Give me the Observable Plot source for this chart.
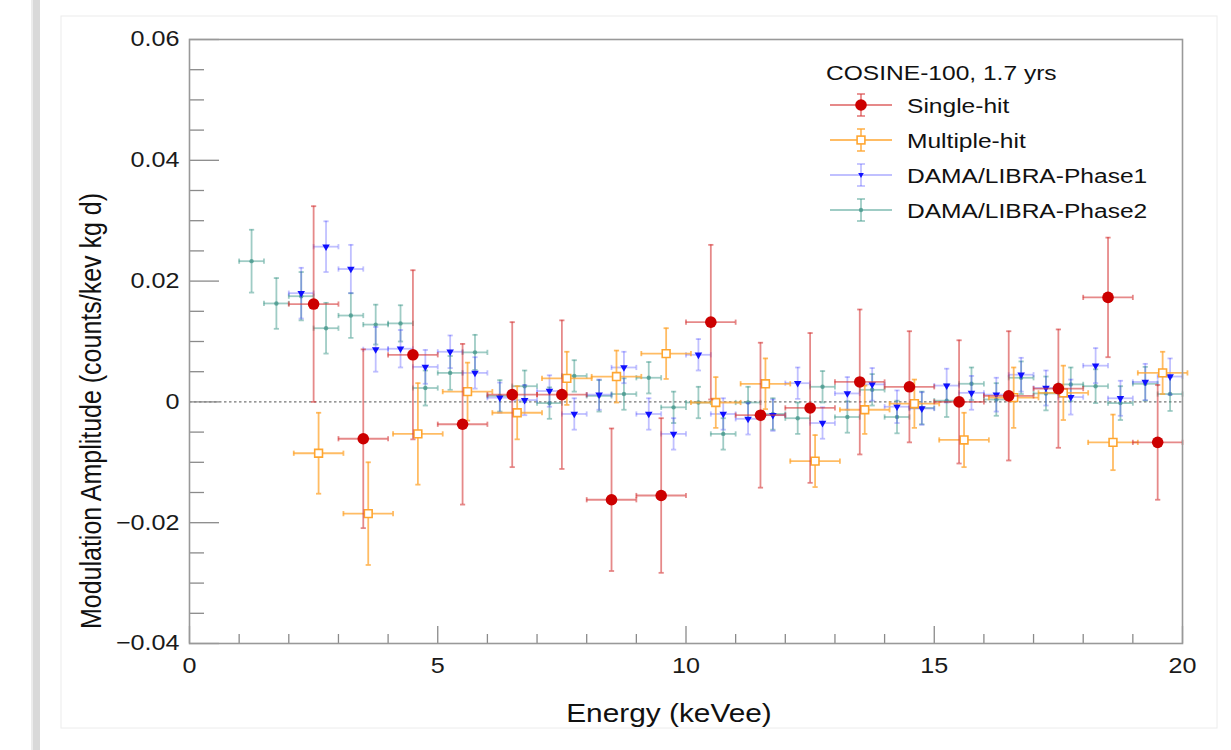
<!DOCTYPE html>
<html>
<head>
<meta charset="utf-8">
<script src="https://cdn.jsdelivr.net/npm/d3@7"></script>
<script src="https://cdn.jsdelivr.net/npm/@observablehq/plot@0.6"></script>
<style>
  body { margin: 0; background: #fff; }
  #wrap { position: relative; width: 1231px; height: 750px; overflow: hidden; background: #fff; }
</style>
</head>
<body>
<div id="wrap"></div>
<script>
// ---------------- DATA ----------------
const singleX   = [2.5, 3.5, 4.5, 5.5, 6.5, 7.5, 8.5, 9.5, 10.5, 11.5, 12.5, 13.5, 14.5, 15.5, 16.5, 17.5, 18.5, 19.5];
const singleY   = [0.0162, -0.0061, 0.0078, -0.0037, 0.0012, 0.0012, -0.0162, -0.0155, 0.0132, -0.0022, -0.0010, 0.0033, 0.0025, 0.0000, 0.0010, 0.0022, 0.0173, -0.0067];
const singleErr = [0.0162, 0.0148, 0.0140, 0.0133, 0.0120, 0.0123, 0.0118, 0.0128, 0.0128, 0.0120, 0.0124, 0.0120, 0.0092, 0.0102, 0.0107, 0.0098, 0.0099, 0.0095];

const multiX   = [2.6, 3.6, 4.6, 5.6, 6.6, 7.6, 8.6, 9.6, 10.6, 11.6, 12.6, 13.6, 14.6, 15.6, 16.6, 17.6, 18.6, 19.6];
const multiY   = [-0.0085, -0.0185, -0.0053, 0.0017, -0.0018, 0.0039, 0.0042, 0.0080, -0.0001, 0.0030, -0.0098, -0.0013, -0.0003, -0.0063, 0.0007, 0.0015, -0.0067, 0.0048];
const multiErr = [0.0067, 0.0085, 0.0084, 0.0048, 0.0044, 0.0044, 0.0043, 0.0042, 0.0042, 0.0042, 0.0043, 0.0040, 0.0040, 0.0045, 0.0050, 0.0045, 0.0046, 0.0035];

const phase1X = [2.25, 2.75, 3.25, 3.75, 4.25, 4.75, 5.25, 5.75, 6.25, 6.75, 7.25, 7.75, 8.25, 8.75, 9.25, 9.75, 10.25, 10.75,
                 11.25, 11.75, 12.25, 12.75, 13.25, 13.75, 14.25, 14.75, 15.25, 15.75, 16.25, 16.75, 17.25, 17.75, 18.25, 18.75, 19.25, 19.75];
const phase1Y = [0.0180, 0.0257, 0.0220, 0.0087, 0.0088, 0.0058, 0.0083, 0.0048, 0.0007, 0.0003, 0.0018, -0.0020, 0.0012, 0.0057, -0.0020, -0.0053, 0.0078, -0.0020,
                 -0.0028, -0.0022, 0.0031, -0.0035, 0.0014, 0.0029, -0.0008, -0.0011, 0.0027, 0.0015, 0.0012, 0.0045, 0.0023, 0.0008, 0.0060, 0.0006, 0.0033, 0.0042];
const phase1Err = [0.0042, 0.0042, 0.0040, 0.0037, 0.0031, 0.0028, 0.0027, 0.0026, 0.0025, 0.0025, 0.0026, 0.0026, 0.0025, 0.0026, 0.0026, 0.0026, 0.0026, 0.0026,
                   0.0026, 0.0026, 0.0026, 0.0026, 0.0027, 0.0027, 0.0027, 0.0027, 0.0028, 0.0028, 0.0028, 0.0028, 0.0029, 0.0029, 0.0029, 0.0029, 0.0030, 0.0030];

const phase2X = [1.25, 1.75, 2.25, 2.75, 3.25, 3.75, 4.25, 4.75, 5.25, 5.75, 6.25, 6.75, 7.25, 7.75, 8.25, 8.75, 9.25, 9.75, 10.25, 10.75,
                 11.25, 11.75, 12.25, 12.75, 13.25, 13.75, 14.25, 14.75, 15.25, 15.75, 16.25, 16.75, 17.25, 17.75, 18.25, 18.75, 19.25, 19.75];
const phase2Y = [0.0233, 0.0163, 0.0175, 0.0122, 0.0143, 0.0128, 0.0130, 0.0023, 0.0048, 0.0082, 0.0010, 0.0026, -0.0002, 0.0043, 0.0010, 0.0013, 0.0040, -0.0009, -0.0001, -0.0053,
                 -0.0001, -0.0020, -0.0027, 0.0025, -0.0025, 0.0020, -0.0025, -0.0010, 0.0002, 0.0030, 0.0004, 0.0040, 0.0014, 0.0029, 0.0026, -0.0002, 0.0030, 0.0013];
const phase2Err = [0.0052, 0.0042, 0.0040, 0.0042, 0.0037, 0.0033, 0.0030, 0.0029, 0.0028, 0.0029, 0.0026, 0.0026, 0.0026, 0.0026, 0.0026, 0.0026, 0.0026, 0.0026, 0.0026, 0.0026,
                   0.0026, 0.0026, 0.0026, 0.0026, 0.0026, 0.0026, 0.0027, 0.0027, 0.0027, 0.0027, 0.0027, 0.0027, 0.0028, 0.0028, 0.0028, 0.0028, 0.0028, 0.0028];

const yMajor = [-0.04, -0.02, 0, 0.02, 0.04, 0.06];
const yMajorLabels = ["\u22120.04", "\u22120.02", "0", "0.02", "0.04", "0.06"];
const yMinor = [-0.035, -0.03, -0.025, -0.015, -0.01, -0.005, 0.005, 0.01, 0.015, 0.025, 0.03, 0.035, 0.045, 0.05, 0.055];
const xMajor = [0, 5, 10, 15, 20];
const xMajorLabels = ["0", "5", "10", "15", "20"];
const xMinor = [1, 2, 3, 4, 6, 7, 8, 9, 11, 12, 13, 14, 16, 17, 18, 19];

const legendTitle = "COSINE-100, 1.7 yrs";
const seriesNames = ["Single-hit", "Multiple-hit", "DAMA/LIBRA-Phase1", "DAMA/LIBRA-Phase2"];
const xTitle = "Energy (keVee)";
const yTitle = "Modulation Amplitude (counts/kev kg d)";

// ---------------- STYLE ----------------
const SX = 1.17; // horizontal stretch of the text in the reference
const FONT = "'Liberation Sans', Arial, Helvetica, sans-serif";
const C = {
  single: {bar: "#d63a3a", barOp: 0.6, mark: "#cc0000"},
  multi:  {bar: "#ffa630", barOp: 0.75, mark: "#ffa630"},
  p1:     {bar: "#3a3aff", barOp: 0.32, mark: "#1010ff"},
  p2:     {bar: "#3f9a8c", barOp: 0.5,  mark: "#4a9a8e"}
};

const hCap = {draw(ctx, size) { const r = Math.sqrt(size / Math.PI); ctx.moveTo(-r, 0); ctx.lineTo(r, 0); }};
const vCap = {draw(ctx, size) { const r = Math.sqrt(size / Math.PI); ctx.moveTo(0, -r); ctx.lineTo(0, r); }};

function rows(xs, ys, es, hw) { return xs.map((x, i) => ({x, y: ys[i], e: es[i], w: hw})); }

function errorBars(data, col) {
  const s = {stroke: col.bar, strokeOpacity: col.barOp, strokeWidth: 1.8};
  return [
    Plot.ruleY(data, {y: "y", x1: d => d.x - d.w, x2: d => d.x + d.w, ...s}),
    Plot.ruleX(data, {x: "x", y1: d => d.y - d.e, y2: d => d.y + d.e, ...s}),
    Plot.dot(data, {x: "x", y: d => d.y + d.e, symbol: hCap, r: 2.6, ...s}),
    Plot.dot(data, {x: "x", y: d => d.y - d.e, symbol: hCap, r: 2.6, ...s}),
    Plot.dot(data, {x: d => d.x - d.w, y: "y", symbol: vCap, r: 2.6, ...s}),
    Plot.dot(data, {x: d => d.x + d.w, y: "y", symbol: vCap, r: 2.6, ...s})
  ];
}

const dSingle = rows(singleX, singleY, singleErr, 0.5);
const dMulti  = rows(multiX, multiY, multiErr, 0.5);
const dP1     = rows(phase1X, phase1Y, phase1Err, 0.25);
const dP2     = rows(phase2X, phase2Y, phase2Err, 0.25);

const axisStyle = {stroke: "#8a8a8a", strokeWidth: 1.3, label: null};

const plot = Plot.plot({
  width: 1231,
  height: 750,
  marginLeft: 189,
  marginRight: 49,
  marginTop: 39,
  marginBottom: 107,
  style: {fontFamily: FONT, background: "transparent", color: "#1a1a1a"},
  x: {domain: [0, 20]},
  y: {domain: [-0.04, 0.06]},
  marks: [
    Plot.ruleY([0], {stroke: "#777", strokeWidth: 1.3, strokeDasharray: "2.5,2.5"}),
    // ticks (inward)
    Plot.axisY({ticks: yMajor, tickSize: -30, tickFormat: () => "", ...axisStyle}),
    Plot.axisY({ticks: yMinor, tickSize: -15, tickFormat: () => "", ...axisStyle}),
    Plot.axisX({ticks: xMajor, tickSize: -17, tickFormat: () => "", ...axisStyle}),
    Plot.axisX({ticks: xMinor, tickSize: -9, tickFormat: () => "", ...axisStyle}),
    // tick labels
    Plot.axisY({ticks: yMajor, tickSize: 0, tickPadding: 10, fontSize: 21.5, label: null,
                tickFormat: d => yMajorLabels[yMajor.indexOf(d)]}),
    Plot.axisX({ticks: xMajor, tickSize: 0, tickPadding: 14, fontSize: 21.5, label: null,
                tickFormat: d => xMajorLabels[xMajor.indexOf(d)]}),
    // DAMA/LIBRA Phase2
    ...errorBars(dP2, C.p2),
    Plot.dot(dP2, {x: "x", y: "y", r: 2.2, fill: C.p2.mark, fillOpacity: 0.8}),
    // DAMA/LIBRA Phase1
    ...errorBars(dP1, C.p1),
    Plot.dot(dP1, {x: "x", y: "y", symbol: "triangle", rotate: 180, r: 2.8, fill: C.p1.mark}),
    // Multiple-hit
    ...errorBars(dMulti, C.multi),
    Plot.dot(dMulti, {x: "x", y: "y", symbol: "square", r: 4.4, fill: "white", stroke: C.multi.mark, strokeWidth: 1.6}),
    // Single-hit
    ...errorBars(dSingle, C.single),
    Plot.dot(dSingle, {x: "x", y: "y", r: 5.8, fill: C.single.mark}),
    Plot.frame({stroke: "#999", strokeWidth: 1.6})
  ]
});

document.getElementById("wrap").appendChild(plot);
const svg = d3.select(plot);

// stretch tick label text horizontally like the reference
svg.selectAll('g[aria-label="y-axis tick label"] text, g[aria-label="x-axis tick label"] text').each(function () {
  const t = this.getAttribute("transform") || "";
  this.setAttribute("transform", t + ` scale(${SX},1)`);
});

// page decorations behind
const deco = svg.insert("g", ":first-child");
deco.append("rect").attr("x", 61).attr("y", 16).attr("width", 1156).attr("height", 712)
  .attr("fill", "none").attr("stroke", "#ececec").attr("stroke-width", 1);
deco.append("rect").attr("x", 33).attr("y", 0).attr("width", 7).attr("height", 750).attr("fill", "#d9d9d9");
deco.append("rect").attr("x", 31).attr("y", 0).attr("width", 2).attr("height", 750).attr("fill", "#ececec");

// axis titles
const txt = svg.append("g").attr("font-family", FONT).attr("fill", "#111");
txt.append("text").attr("transform", `translate(669,722) scale(${SX},1)`)
  .attr("text-anchor", "middle").attr("font-size", 25.5).text(xTitle);
txt.append("text").attr("transform", `translate(101,411) scale(${SX},1) rotate(-90)`)
  .attr("text-anchor", "middle").attr("font-size", 25).text(yTitle);

// legend
const lg = svg.append("g").attr("font-family", FONT).attr("fill", "#111").attr("text-anchor", "start");
lg.append("text").attr("text-anchor", "start").attr("transform", `translate(826,72) scale(${SX},1)`)
  .attr("dy", "0.36em").attr("font-size", 21).text(legendTitle);
const rowY = [105, 140, 175, 210];
const legCols = [C.single, C.multi, C.p1, C.p2];
rowY.forEach((yy, i) => {
  const col = legCols[i];
  const g = lg.append("g").attr("stroke", col.bar).attr("stroke-opacity", col.barOp).attr("stroke-width", 1.8);
  g.append("line").attr("x1", 830).attr("x2", 892).attr("y1", yy).attr("y2", yy);
  g.append("line").attr("x1", 861).attr("x2", 861).attr("y1", yy - 11).attr("y2", yy + 11);
  g.append("line").attr("x1", 857).attr("x2", 865).attr("y1", yy - 11).attr("y2", yy - 11);
  g.append("line").attr("x1", 857).attr("x2", 865).attr("y1", yy + 11).attr("y2", yy + 11);
  if (i === 0) lg.append("circle").attr("cx", 861).attr("cy", yy).attr("r", 5.8).attr("fill", col.mark);
  if (i === 1) lg.append("rect").attr("x", 861 - 3.9).attr("y", yy - 3.9).attr("width", 7.8).attr("height", 7.8)
                 .attr("fill", "white").attr("stroke", col.mark).attr("stroke-width", 1.6);
  if (i === 2) lg.append("path").attr("d", `M${861 - 2.8},${yy - 2}L${861 + 2.8},${yy - 2}L861,${yy + 3}Z`).attr("fill", col.mark);
  if (i === 3) lg.append("circle").attr("cx", 861).attr("cy", yy).attr("r", 2.2).attr("fill", col.mark).attr("fill-opacity", 0.8);
  lg.append("text").attr("text-anchor", "start").attr("transform", `translate(907,${yy}) scale(${SX},1)`).attr("dy", "0.36em")
    .attr("font-size", 21).text(seriesNames[i]);
});
</script>
</body>
</html>
